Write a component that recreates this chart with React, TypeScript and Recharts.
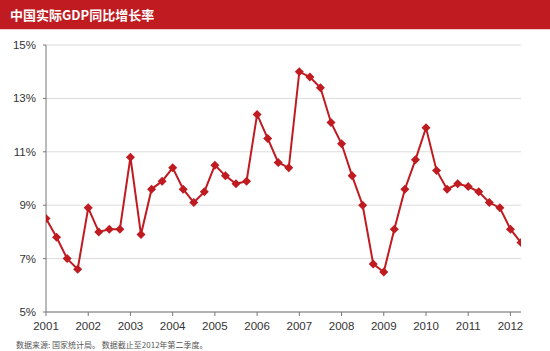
import { LineChart, Line, XAxis, YAxis, CartesianGrid } from "recharts"

const quarters = [
  "2001Q1", "2001Q2", "2001Q3", "2001Q4",
  "2002Q1", "2002Q2", "2002Q3", "2002Q4",
  "2003Q1", "2003Q2", "2003Q3", "2003Q4",
  "2004Q1", "2004Q2", "2004Q3", "2004Q4",
  "2005Q1", "2005Q2", "2005Q3", "2005Q4",
  "2006Q1", "2006Q2", "2006Q3", "2006Q4",
  "2007Q1", "2007Q2", "2007Q3", "2007Q4",
  "2008Q1", "2008Q2", "2008Q3", "2008Q4",
  "2009Q1", "2009Q2", "2009Q3", "2009Q4",
  "2010Q1", "2010Q2", "2010Q3", "2010Q4",
  "2011Q1", "2011Q2", "2011Q3", "2011Q4",
  "2012Q1", "2012Q2",
]

// 实际GDP同比增长率 (%)
const growth = [
  8.5, 7.8, 7.0, 6.6,
  8.9, 8.0, 8.1, 8.1,
  10.8, 7.9, 9.6, 9.9,
  10.4, 9.6, 9.1, 9.5,
  10.5, 10.1, 9.8, 9.9,
  12.4, 11.5, 10.6, 10.4,
  14.0, 13.8, 13.4, 12.1,
  11.3, 10.1, 9.0, 6.8,
  6.5, 8.1, 9.6, 10.7,
  11.9, 10.3, 9.6, 9.8,
  9.7, 9.5, 9.1, 8.9,
  8.1, 7.6,
]

const yearTicks = [2001, 2002, 2003, 2004, 2005, 2006, 2007, 2008, 2009, 2010, 2011, 2012]
const yTicks = [5, 7, 9, 11, 13, 15]

const data = quarters.map((q, i) => ({
  name: q,
  t: Number(q.slice(0, 4)) + (Number(q.slice(5)) - 1) / 4,
  value: growth[i],
}))

const RED = "#BF1B21"

const Diamond = (props: any) => {
  const { cx, cy } = props
  if (cx == null || cy == null) return null
  const r = 4.5
  return (
    <path
      d={`M${cx},${cy - r}L${cx + r},${cy}L${cx},${cy + r}L${cx - r},${cy}Z`}
      fill={RED}
      stroke="none"
    />
  )
}

export default function App() {
  return (
    <div
      style={{
        position: "absolute",
        left: 0,
        top: 0,
        width: 550,
        height: 351,
        background: "#fff",
        fontFamily: "Arial, 'Liberation Sans', sans-serif",
      }}
    >
      <div
        style={{
          position: "absolute",
          left: 0,
          top: 0,
          width: 550,
          height: 29,
          background: RED,
          borderBottom: "1px solid #F6C9C9",
        }}
      >
        <span
          style={{
            position: "absolute",
            left: 10,
            top: 6,
            color: "#fff",
            fontWeight: 700,
            fontSize: 13,
            lineHeight: "17px",
            fontFamily: "'Noto Sans CJK SC', sans-serif",
          }}
        >
          中国实际GDP同比增长率
        </span>
      </div>
      <LineChart
        width={550}
        height={351}
        data={data}
        margin={{ top: 45, right: 29, bottom: 0, left: 0 }}
      >
        <CartesianGrid vertical={false} stroke="#DCDCDC" strokeWidth={1} />
        <XAxis
          dataKey="t"
          type="number"
          domain={[2001, 2012.25]}
          ticks={yearTicks}
          interval={0}
          height={39}
          tickSize={4}
          tickMargin={6}
          stroke="#777"
          tick={{ fill: "#333", fontSize: 11.5 }}
          allowDataOverflow
        />
        <YAxis
          type="number"
          domain={[5, 15]}
          ticks={yTicks}
          width={46}
          tickSize={3}
          tickMargin={7}
          stroke="#777"
          tick={{ fill: "#333", fontSize: 11.5 }}
          tickFormatter={(v: number) => `${v}%`}
        />
        <Line
          type="linear"
          dataKey="value"
          stroke={RED}
          strokeWidth={2}
          dot={<Diamond />}
          activeDot={false}
          isAnimationActive={false}
        />
      </LineChart>
      <div
        style={{
          position: "absolute",
          left: 16,
          top: 340,
          fontSize: 8,
          lineHeight: "10px",
          color: "#555",
          fontFamily: "'Noto Sans CJK SC', sans-serif",
          whiteSpace: "nowrap",
        }}
      >
        数据来源: 国家统计局。 数据截止至2012年第二季度。
      </div>
    </div>
  )
}
